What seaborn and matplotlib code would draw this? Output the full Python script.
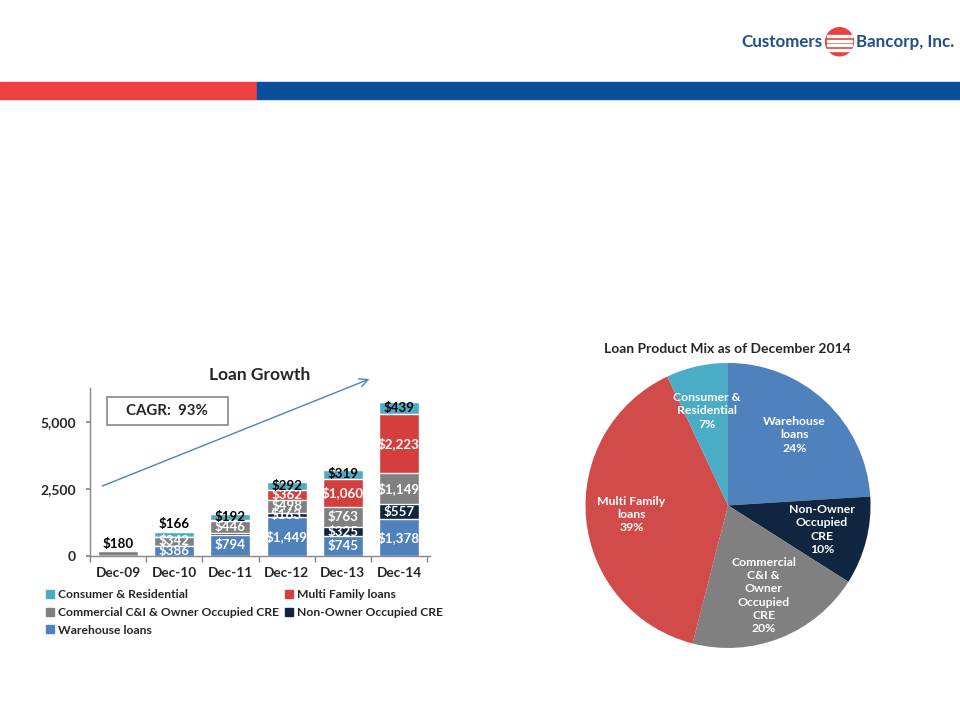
import seaborn as sns
import matplotlib.pyplot as plt
import matplotlib.patches as mpatches
import numpy as np
import pandas as pd

# dati del grafico a barre (milioni di dollari)
anni = ["Dec-09", "Dec-10", "Dec-11", "Dec-12", "Dec-13", "Dec-14"]
warehouse = [0, 386, 794, 1449, 745, 1378]
non_owner = [0, 0, 60, 163, 325, 557]
commercial = [180, 342, 446, 498, 763, 1149]
multi_family = [0, 0, 60, 362, 1060, 2223]
consumer = [0, 166, 192, 292, 319, 439]

serie = ["Warehouse loans", "Non-Owner Occupied CRE", "Commercial C&I & Owner Occupied CRE",
         "Multi Family loans", "Consumer & Residential"]
colori = ["#4F81BD", "#10253F", "#808080", "#D43F3D", "#4BACC6"]
colori_testo = ["white", "white", "white", "white", "black"]

# dati della torta
torta_etichette = ["Warehouse\nloans", "Non-Owner\nOccupied\nCRE", "Commercial\nC&I &\nOwner\nOccupied\nCRE",
                   "Multi Family\nloans", "Consumer &\nResidential"]
torta_pct = [24, 10, 20, 39, 7]
torta_colori = ["#4F81BD", "#10253F", "#808080", "#D24B4B", "#4BACC6"]

sns.set_theme(style="white")
plt.rcParams['font.family'] = ['Lato', 'DejaVu Sans']

fig = plt.figure(figsize=(9.6, 7.2), dpi=100)

# intestazione: logo e fascia colorata
fig.text(0.857, 0.941, "Customers", ha="right", va="center", fontsize=12.2,
         fontweight="bold", color="#1F4E8C")
fig.text(0.892, 0.941, "Bancorp, Inc.", ha="left", va="center", fontsize=12.2,
         fontweight="bold", color="#1F4E8C")
fig.patches.append(mpatches.Ellipse((0.8745, 0.942), 0.029, 0.039, transform=fig.transFigure,
                                    color="#E8403F", zorder=2))
for k in range(4):
    fig.patches.append(mpatches.Rectangle((0.861, 0.929 + k * 0.0065), 0.026, 0.003,
                                          transform=fig.transFigure, color="white", zorder=3))
fig.patches.append(mpatches.Rectangle((0, 0.8625), 0.268, 0.024, transform=fig.transFigure,
                                      color="#EE4040", zorder=1))
fig.patches.append(mpatches.Rectangle((0.268, 0.8625), 0.732, 0.024, transform=fig.transFigure,
                                      color="#0B4F9C", zorder=1))

# grafico a barre impilate
ax = fig.add_axes([0.09375, 0.2278, 0.354, 0.233])
df = pd.DataFrame({"anno": anni, serie[0]: warehouse, serie[1]: non_owner, serie[2]: commercial,
                   serie[3]: multi_family, serie[4]: consumer})
cumul = df[serie].cumsum(axis=1)
# disegno dal totale verso il basso cosi' ogni strato copre quello sopra
for i in reversed(range(len(serie))):
    sns.barplot(x=df["anno"], y=cumul[serie[i]], color=colori[i], width=0.71,
                saturation=1, ax=ax, zorder=2)

valori = df[serie].values
for j in range(len(anni)):
    base = 0
    totale = valori[j].sum()
    ultimo = max(i for i in range(len(serie)) if valori[j, i] > 0)
    for i in range(len(serie)):
        v = valori[j, i]
        if v >= 100:
            if i == ultimo and totale < 1000:
                y = totale + 60
                va = "bottom"
                col = "black"
            else:
                y = base + v / 2
                va = "center"
                col = colori_testo[i]
            ax.text(j, y, f"${v:,}", ha="center", va=va, fontsize=9.6,
                    fontweight="bold", color=col, zorder=5)
        base += v

ax.set_xlim(-0.5, 5.55)
ax.set_ylim(0, 6270)
ax.set_yticks([0, 2500, 5000])
ax.set_yticklabels(["0", "2,500", "5,000"], fontweight="bold", fontsize=10)
ax.set_xticks(range(len(anni)))
ax.set_xticklabels(anni, fontweight="bold", fontsize=9.8)
ax.set_xticks(np.arange(-0.5, 6, 1), minor=True)
ax.tick_params(axis="x", which="major", length=0, pad=8)
ax.tick_params(axis="x", which="minor", length=4, color="#888888", direction="out", bottom=True)
ax.tick_params(axis="y", length=3, color="#888888", left=True, pad=7)
ax.set_xlabel("")
ax.set_ylabel("")
for s in ["top", "right"]:
    ax.spines[s].set_visible(False)
for s in ["left", "bottom"]:
    ax.spines[s].set_color("#888888")
    ax.spines[s].set_linewidth(1)
ax.set_title("Loan Growth", fontsize=12.5, fontweight="bold", pad=6)

ax.add_patch(mpatches.Rectangle((0.05, 0.78), 0.356, 0.166, transform=ax.transAxes,
                                facecolor="white", edgecolor="#888888", lw=1.2, zorder=6))
ax.text(0.226, 0.865, "CAGR:  93%", transform=ax.transAxes, ha="center", va="center",
        fontsize=10.8, fontweight="bold", zorder=7)

fig.add_artist(mpatches.FancyArrowPatch((0.104, 0.3236), (0.3875, 0.4750), transform=fig.transFigure,
                                        arrowstyle="->,head_length=6,head_width=3",
                                        color="#4F81BD", lw=1, zorder=10))

handles = [mpatches.Patch(color=colori[i], label=serie[i]) for i in [4, 2, 0, 3, 1]]
fig.legend(handles=handles, loc="upper left", bbox_to_anchor=(0.042, 0.19), ncol=2,
           frameon=False, handlelength=0.65, handleheight=0.65,
           handletextpad=0.35, columnspacing=0.45, labelspacing=0.55, borderpad=0,
           prop={"weight": "bold", "size": 8.7})

# grafico a torta
ax2 = fig.add_axes([0.6099, 0.1, 0.2969, 0.396])
wedges, testi = ax2.pie(torta_pct, colors=torta_colori, startangle=90, counterclock=False,
                        labels=torta_etichette, labeldistance=0.68,
                        wedgeprops=dict(linewidth=0),
                        textprops=dict(color="white", fontsize=8.8, fontweight="bold",
                                       ha="center", va="center", linespacing=1.25))
for t, p in zip(testi, torta_pct):
    t.set_text(t.get_text() + f"\n{p}%")
ax2.set_xlim(-1, 1)
ax2.set_ylim(-1, 1)
fig.text(0.758, 0.515, "Loan Product Mix as of December 2014", ha="center", va="center",
         fontsize=10, fontweight="bold")

fig.savefig("out.png", dpi=100)
